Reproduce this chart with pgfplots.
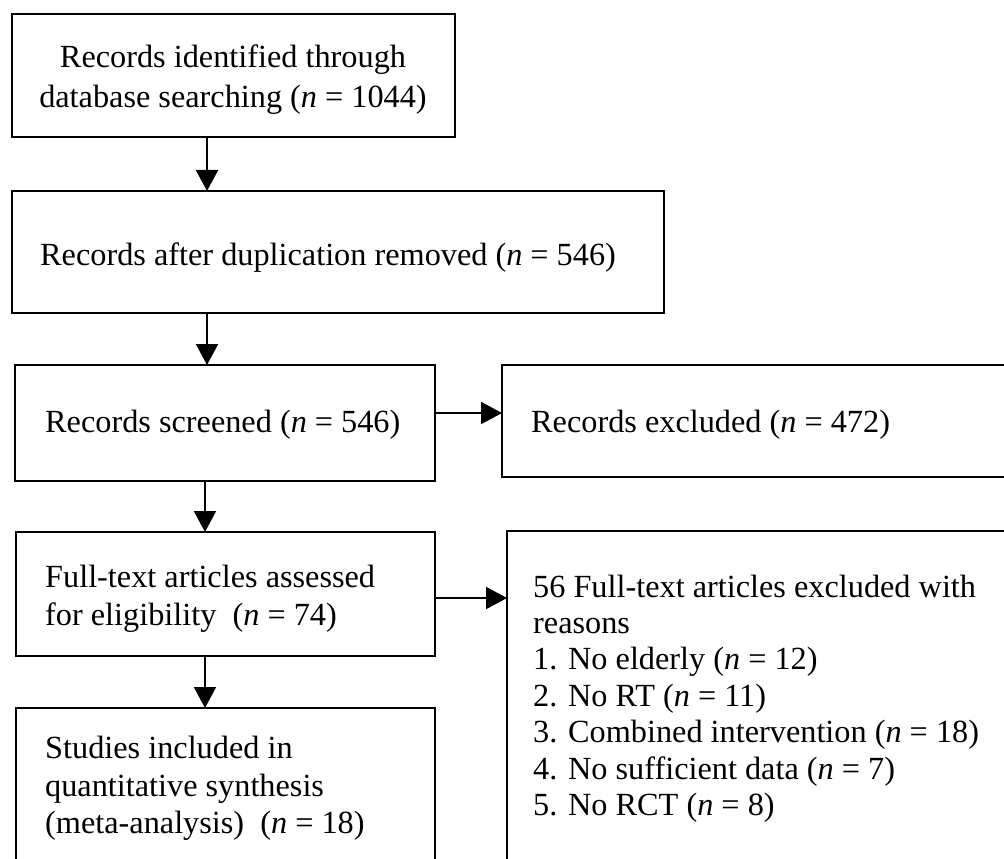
\documentclass[border=0pt]{standalone}
\usepackage{pgfplots}
\pgfplotsset{compat=1.18}
\usepackage{fontspec}
\setmainfont{Liberation Serif}
\usetikzlibrary{arrows.meta}
\begin{document}
\begin{tikzpicture}
\clip (0,0) rectangle (1004bp,859bp);
\begin{axis}[width=1004bp,height=859bp,scale only axis,
  xmin=0,xmax=1004,ymin=0,ymax=859,y dir=reverse,
  axis lines=none,clip=false,anchor=south west,at={(0,0)}]
\tikzset{bx/.style={line width=2bp,draw=black},
  ar/.style={line width=2bp,-{Triangle[width=22bp,length=21bp]}},
  tx/.style={anchor=base west,inner sep=0pt,font=\fontsize{32.4}{37}\selectfont}}
% boxes
\draw[bx] (axis cs:12,14) rectangle (axis cs:455,137);
\draw[bx] (axis cs:12,191) rectangle (axis cs:664,313);
\draw[bx] (axis cs:15,365) rectangle (axis cs:435,481);
\draw[bx] (axis cs:502,365) rectangle (axis cs:1012,477);
\draw[bx] (axis cs:16,532) rectangle (axis cs:435,656);
\draw[bx] (axis cs:507,531) rectangle (axis cs:1012,880);
\draw[bx] (axis cs:16,708) rectangle (axis cs:435,880);
% arrows
\draw[ar] (axis cs:207,137) -- (axis cs:207,191);
\draw[ar] (axis cs:207,313) -- (axis cs:207,365);
\draw[ar] (axis cs:435,413) -- (axis cs:502,413);
\draw[ar] (axis cs:205,481) -- (axis cs:205,532);
\draw[ar] (axis cs:435,598) -- (axis cs:507,598);
\draw[ar] (axis cs:205,656) -- (axis cs:205,708);
% texts
\node[tx,anchor=base] at (axis cs:233,68) {Records identified through};
\node[tx,anchor=base] at (axis cs:233,108) {database searching (\textit{n} = 1044)};
\node[tx] at (axis cs:40,265) {Records after duplication removed (\textit{n} = 546)};
\node[tx] at (axis cs:45,432) {Records screened (\textit{n} = 546)};
\node[tx] at (axis cs:531,432) {Records excluded (\textit{n} = 472)};
\node[tx] at (axis cs:45,587) {Full-text articles assessed};
\node[tx] at (axis cs:45,625) {for eligibility\ \ (\textit{n} = 74)};
\node[tx] at (axis cs:533,597) {56 Full-text articles excluded with};
\node[tx] at (axis cs:533,633) {reasons};
\node[tx] at (axis cs:533,669) {1. No elderly (\textit{n} = 12)};
\node[tx] at (axis cs:533,706) {2. No RT (\textit{n} = 11)};
\node[tx] at (axis cs:533,742) {3. Combined intervention (\textit{n} = 18)};
\node[tx] at (axis cs:533,779) {4. No sufficient data (\textit{n} = 7)};
\node[tx] at (axis cs:533,815) {5. No RCT (\textit{n} = 8)};
\node[tx] at (axis cs:45,758) {Studies included in};
\node[tx] at (axis cs:45,796) {quantitative synthesis};
\node[tx] at (axis cs:45,833) {(meta-analysis)\ \ (\textit{n} = 18)};
\end{axis}
\end{tikzpicture}
\end{document}
